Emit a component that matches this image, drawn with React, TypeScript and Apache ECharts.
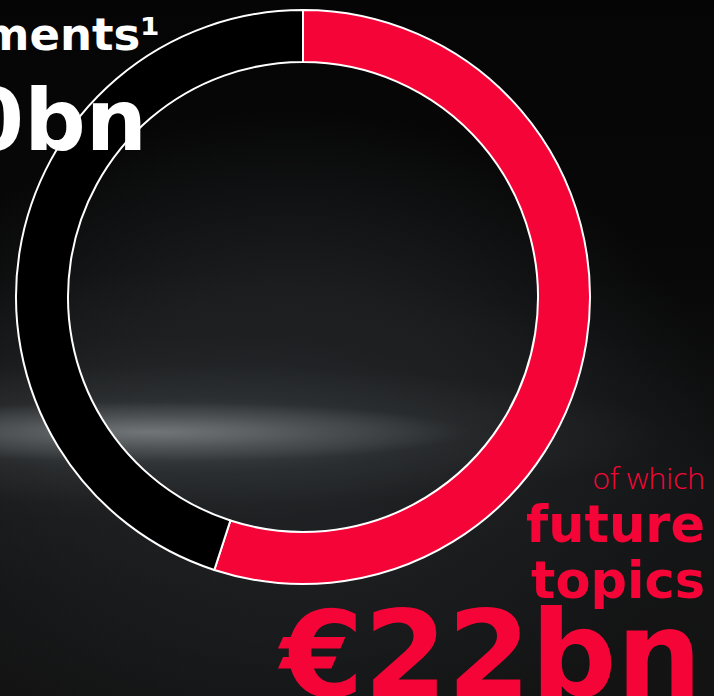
import React, { useEffect, useRef } from "react";
import * as echarts from "echarts";

const categories = ["future topics", "other investments"];
const values = [22, 18];
const colors = ["#F50537", "#000000"];
const headline = "Investments¹";
const totalLabel = "€40bn";
const subLabel1 = "of which";
const subLabel2 = "future";
const subLabel3 = "topics";
const partLabel = "€22bn";

export default function App() {
  const ref = useRef<HTMLDivElement>(null);
  useEffect(() => {
    document.body.style.margin = "0";
    const chart = echarts.init(ref.current!, null, { renderer: "svg" });
    const bold = (s: number) => `bold ${s}px "DejaVu Sans", sans-serif`;
    const txt = (text: string, x: number, baseline: number, size: number, fill: string, font?: string) => ({
      type: "text",
      z: 100,
      silent: true,
      x,
      y: baseline - 0.35 * size,
      style: { text, fill, font: font || bold(size), align: "right", verticalAlign: "middle" },
    });
    chart.setOption({
      animation: false,
      backgroundColor: "transparent",
      series: [
        {
          type: "pie",
          radius: [235, 287],
          center: [303, 297],
          startAngle: 90,
          clockwise: true,
          silent: true,
          z: 2,
          label: { show: false },
          labelLine: { show: false },
          itemStyle: { borderColor: "#ffffff", borderWidth: 2 },
          data: categories.map((c, i) => ({
            name: c,
            value: values[i],
            itemStyle: { color: colors[i] },
          })),
        },
      ],
      graphic: [
        txt(headline, 160, 50, 45, "#ffffff"),
        txt(totalLabel, 147, 150, 86, "#ffffff"),
        txt(subLabel1, 705, 488, 30, "#F50537", `300 30px "Open Sans", "Noto Sans", sans-serif`),
        txt(subLabel2, 705, 542, 51, "#F50537"),
        txt(subLabel3, 705, 598, 51, "#F50537"),
        txt(partLabel, 702, 696, 120, "#F50537"),
      ],
    });
    return () => chart.dispose();
  }, []);
  return (
    <div
      ref={ref}
      style={{
        position: "absolute",
        left: 0,
        top: 0,
        width: 714,
        height: 696,
        overflow: "hidden",
        background: [
          "radial-gradient(ellipse 320px 30px at 150px 432px, rgba(128,133,136,0.75) 0%, rgba(100,105,108,0.45) 55%, rgba(60,64,66,0) 100%)",
          "radial-gradient(ellipse 500px 70px at 170px 435px, rgba(85,90,93,0.6) 0%, rgba(55,58,60,0.35) 55%, rgba(30,30,30,0) 100%)",
          "radial-gradient(ellipse 540px 160px at 180px 430px, rgba(45,48,50,0.7) 0%, rgba(30,32,34,0.4) 60%, rgba(20,20,20,0) 100%)",
          "radial-gradient(ellipse 430px 330px at 290px 440px, #222528 0%, #1b1d1f 45%, rgba(8,8,8,0) 100%)",
          "linear-gradient(to bottom, #050505 0%, #080808 40%, #141516 70%, #131313 100%)",
        ].join(","),
      }}
    />
  );
}
